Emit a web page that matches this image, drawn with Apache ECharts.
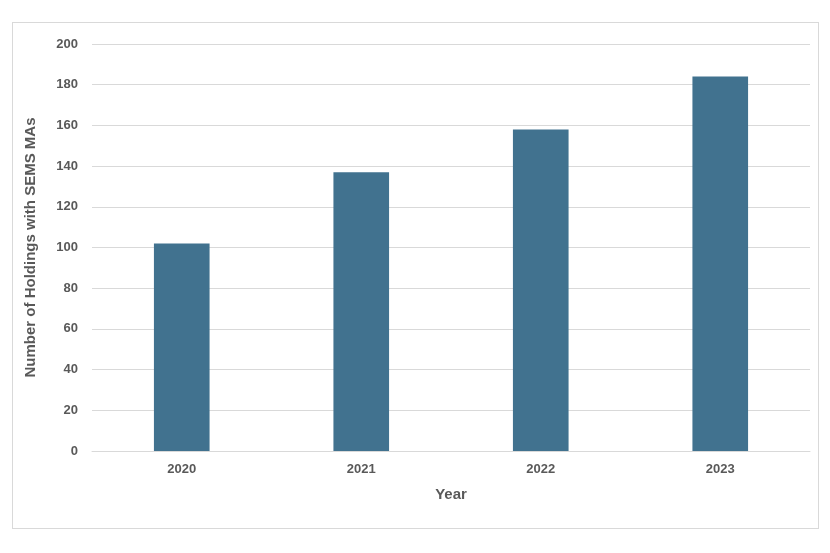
<!DOCTYPE html>
<html>
<head>
<meta charset="utf-8">
<script src="https://cdn.jsdelivr.net/npm/echarts@6/dist/echarts.min.js"></script>
<style>
html,body{margin:0;padding:0;background:#fff;}
#box{position:absolute;left:12px;top:22px;width:805px;height:505px;border:1px solid #d9d9d9;}
#main{width:830px;height:553px;}
</style>
</head>
<body>
<div id="box"></div>
<div id="main"></div>
<script>
// chart data
var years = ['2020', '2021', '2022', '2023'];
var holdings = [102, 137, 158, 184];

var myChart = echarts.init(document.getElementById('main'));
var option = {
	animation: false,
	grid: {left: 92, right: 20, top: 44, bottom: 102},
	xAxis: {
		type: 'category',
		data: years,
		name: 'Year',
		nameLocation: 'middle',
		nameGap: 36,
		nameTextStyle: {fontFamily: 'Liberation Sans', fontWeight: 'bold', fontSize: 15, color: '#595959'},
		axisLine: {lineStyle: {color: '#d9d9d9'}},
		axisTick: {show: false},
		axisLabel: {fontFamily: 'Liberation Sans', fontWeight: 'bold', fontSize: 13, color: '#595959', margin: 12}
	},
	yAxis: {
		type: 'value',
		min: 0,
		max: 200,
		interval: 20,
		name: 'Number of Holdings with SEMS MAs',
		nameLocation: 'middle',
		nameGap: 54,
		nameTextStyle: {fontFamily: 'Liberation Sans', fontWeight: 'bold', fontSize: 15, color: '#595959'},
		axisLine: {show: false},
		axisTick: {show: false},
		splitLine: {lineStyle: {color: '#d9d9d9'}},
		axisLabel: {fontFamily: 'Liberation Sans', fontWeight: 'bold', fontSize: 13, color: '#595959', margin: 14}
	},
	series: [{
		type: 'bar',
		data: holdings,
		barWidth: '31%',
		itemStyle: {color: '#41728f'}
	}]
};
myChart.setOption(option);
</script>
</body>
</html>
